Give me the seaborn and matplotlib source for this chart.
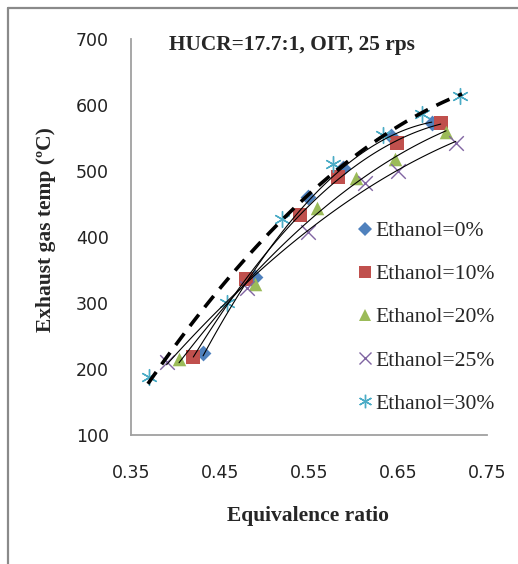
import numpy as np
import pandas as pd
import matplotlib
matplotlib.use("Agg")
import matplotlib.pyplot as plt
from matplotlib.lines import Line2D
import seaborn as sns

# ---- data ----
labels = ["Ethanol=0%", "Ethanol=10%", "Ethanol=20%", "Ethanol=25%", "Ethanol=30%"]
x_e0 = [0.431, 0.489, 0.549, 0.588, 0.642, 0.688]
y_e0 = [224, 340, 461, 505, 553, 573]
x_e10 = [0.420, 0.479, 0.540, 0.583, 0.649, 0.698]
y_e10 = [218, 336, 433, 491, 542, 573]
x_e20 = [0.404, 0.489, 0.559, 0.603, 0.647, 0.704]
y_e20 = [215, 329, 444, 489, 518, 559]
x_e25 = [0.390, 0.480, 0.549, 0.613, 0.650, 0.715]
y_e25 = [210, 323, 408, 482, 500, 542]
x_e30 = [0.370, 0.458, 0.520, 0.577, 0.633, 0.677, 0.720]
y_e30 = [188, 300, 427, 511, 555, 586, 614]
# dashed upper trend line
x_dash = [0.369, 0.458, 0.520, 0.619, 0.656, 0.722]
y_dash = [176, 338, 427, 536, 573, 618]
x_ticks = [0.35, 0.45, 0.55, 0.65, 0.75]
y_ticks = [100, 200, 300, 400, 500, 600, 700]

series = [(x_e0, y_e0), (x_e10, y_e10), (x_e20, y_e20), (x_e25, y_e25), (x_e30, y_e30)]
colors = ["#4F81BD", "#C0504D", "#9BBB59", "#8064A2", "#4BACC6"]
markers = ["D", "s", "^", "x", (6, 2, 0)]
msizes = [65, 110, 95, 110, 130]

sns.set_style("white")
plt.rcParams["font.family"] = ["DejaVu Sans"]
serif = ["Liberation Serif", "DejaVu Serif"]

W, H = 518, 564
fig = plt.figure(figsize=(W / 100, H / 100), dpi=100)
ax = fig.add_axes([131 / W, 1 - 435 / H, 356 / W, 396 / H])

for i, ((xs, ys), lab) in enumerate(zip(series, labels)):
    df = pd.DataFrame({"x": xs, "y": ys})
    lw = 0 if markers[i] in ("D", "s", "^") else 1.0
    sns.scatterplot(data=df, x="x", y="y", ax=ax, marker=markers[i], color=colors[i],
                    s=msizes[i], linewidth=lw, edgecolor=colors[i] if lw == 0 else None,
                    zorder=2, legend=False)
    if i < 4:
        # 2nd-order polynomial trendline
        coef = np.polyfit(xs, ys, 2)
        gx = np.linspace(min(xs), max(xs), 100)
        tdf = pd.DataFrame({"x": gx, "y": np.polyval(coef, gx)})
        sns.lineplot(data=tdf, x="x", y="y", ax=ax, color="black", lw=0.8,
                     zorder=3, sort=False)

# dashed upper trend line
coef = np.polyfit(x_dash, y_dash, 2)
gx = np.linspace(min(x_dash), max(x_dash), 100)
tdf = pd.DataFrame({"x": gx, "y": np.polyval(coef, gx)})
sns.lineplot(data=tdf, x="x", y="y", ax=ax, color="black", lw=2.6, zorder=3, sort=False)
ax.lines[-1].set_dashes([4, 2.6])

ax.set_xlim(0.35, 0.75)
ax.set_ylim(100, 700)
ax.set_xticks(x_ticks)
ax.set_xticklabels([f"{v:.2f}" for v in x_ticks])
ax.set_yticks(y_ticks)
ax.set_yticklabels([str(v) for v in y_ticks])
ax.tick_params(axis="y", length=0, pad=16, labelsize=12.5, colors="#222222")
ax.tick_params(axis="x", length=0, pad=21, labelsize=12.5, colors="#222222")
for s in ["top", "right"]:
    ax.spines[s].set_visible(False)
for s in ["left", "bottom"]:
    ax.spines[s].set_color("#a0a0a0")
    ax.spines[s].set_linewidth(1.3)

ax.set_xlabel("Equivalence ratio", family=serif, fontweight="bold", fontsize=15.5)
ax.xaxis.set_label_coords(0.497, -0.18)
ax.set_ylabel("Exhaust gas temp (ºC)", family=serif, fontweight="bold", fontsize=15.5)
ax.yaxis.set_label_coords(-0.21, 0.52)

ax.text(0.452, 0.985, "HUCR=17.7:1, OIT, 25 rps", transform=ax.transAxes,
        ha="center", va="center", family=serif, fontweight="bold", fontsize=15.4)

handles = []
for i in range(5):
    handles.append(Line2D([], [], linestyle="none", marker=markers[i], color=colors[i],
                          markersize=np.sqrt(msizes[i]) * 0.85,
                          markeredgewidth=1.0 if i >= 3 else 0))
leg = ax.legend(handles, labels, loc="upper left",
                bbox_to_anchor=(358 / W, 1 - 221 / H), bbox_transform=fig.transFigure,
                frameon=False, borderpad=0, borderaxespad=0, handlelength=0.6,
                handletextpad=0.2, labelspacing=1.06,
                prop={"family": serif, "size": 15.6})

# outer frame lines (left and top)
fig.add_artist(Line2D([8 / W, 8 / W], [0, 1 - 8 / H], transform=fig.transFigure,
                      color="#8a8a8a", lw=1.6))
fig.add_artist(Line2D([8 / W, 1], [1 - 8 / H, 1 - 8 / H], transform=fig.transFigure,
                      color="#8a8a8a", lw=1.6))

fig.savefig("out.png", dpi=100, facecolor="white")
